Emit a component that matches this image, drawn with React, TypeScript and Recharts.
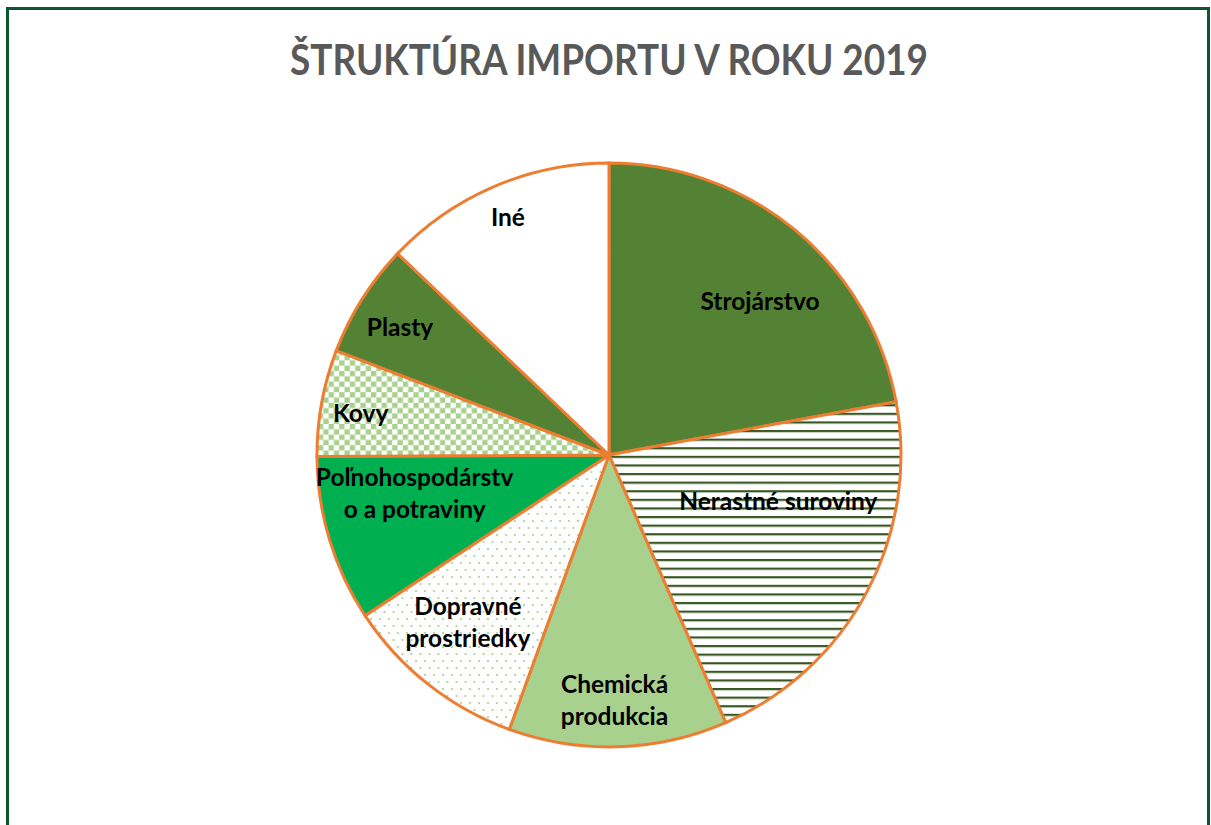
import React from 'react';
import { PieChart, Pie, Cell } from 'recharts';

// ---- data ----
const categories = [
  'Strojárstvo',
  'Nerastné suroviny',
  'Chemická produkcia',
  'Dopravné prostriedky',
  'Poľnohospodárstvo a potraviny',
  'Kovy',
  'Plasty',
  'Iné',
];
const shares = [22.1, 21.4, 12.1, 10.2, 9.2, 5.9, 6.3, 12.9];
const labelLines = [
  ['Strojárstvo'],
  ['Nerastné suroviny'],
  ['Chemická', 'produkcia'],
  ['Dopravné', 'prostriedky'],
  ['Poľnohospodárstv', 'o a potraviny'],
  ['Kovy'],
  ['Plasty'],
  ['Iné'],
];
const chartTitle = 'ŠTRUKTÚRA IMPORTU V ROKU 2019';

// ---- styles ----
const fills = [
  '#548235',
  'url(#hLines)',
  '#A9D18E',
  'url(#dots)',
  '#00B050',
  'url(#checker)',
  '#548235',
  '#FFFFFF',
];
// label placement: fraction of radius, clockwise angle offset (deg)
const labelLayout = [
  { r: 0.74, d: 4.6 },
  { r: 0.6, d: -13.1 },
  { r: 0.836, d: 0.5 },
  { r: 0.747, d: 2 },
  { r: 0.678, d: 5.9 },
  { r: 0.863, d: -0.5 },
  { r: 0.842, d: -0.5 },
  { r: 0.89, d: 0.3 },
];

const data = categories.map((name, i) => ({ name, value: shares[i] }));
const RAD = Math.PI / 180;
const FONT = 'Lato, "Open Sans", sans-serif';

const renderLabel = (props: any) => {
  const { cx, cy, midAngle, outerRadius, index } = props;
  const lay = labelLayout[index];
  const ang = midAngle - lay.d;
  const r = outerRadius * lay.r;
  const x = cx + r * Math.cos(-ang * RAD);
  const y = cy + r * Math.sin(-ang * RAD);
  const lines = labelLines[index];
  const lh = 32;
  const y0 = y - ((lines.length - 1) * lh) / 2;
  return (
    <text
      key={`lbl-${index}`}
      x={x}
      y={y0}
      textAnchor="middle"
      dominantBaseline="central"
      fontFamily={FONT}
      fontWeight={700}
      fontSize={24.5}
      fill="#000000"
    >
      {lines.map((ln, i) => (
        <tspan key={i} x={x} y={y0 + i * lh} dominantBaseline="central">
          {ln}
        </tspan>
      ))}
    </text>
  );
};

export default function App() {
  return (
    <div style={{ position: 'absolute', left: 0, top: 0, width: 1211, height: 825, background: '#fff', overflow: 'hidden' }}>
      <svg width={0} height={0} style={{ position: 'absolute' }}>
        <defs>
          <pattern id="hLines" patternUnits="userSpaceOnUse" width={10} height={8.6}>
            <rect x={0} y={0} width={10} height={8.6} fill="#ffffff" />
            <rect x={0} y={0} width={10} height={2.2} fill="#385723" />
          </pattern>
          <pattern id="checker" patternUnits="userSpaceOnUse" width={10.6} height={10.6}>
            <rect x={0} y={0} width={10.6} height={10.6} fill="#ffffff" />
            <rect x={0} y={0} width={5.3} height={5.3} fill="#A9D18E" />
            <rect x={5.3} y={5.3} width={5.3} height={5.3} fill="#A9D18E" />
          </pattern>
          <pattern id="dots" patternUnits="userSpaceOnUse" width={9} height={14}>
            <rect x={0} y={0} width={9} height={14} fill="#ffffff" />
            <circle cx={2} cy={3} r={1.1} fill="#A9D18E" />
            <circle cx={6.5} cy={10} r={1.1} fill="#A9D18E" />
          </pattern>
        </defs>
      </svg>
      <div
        style={{
          position: 'absolute',
          left: 6,
          top: 7,
          width: 1198,
          height: 840,
          border: '3px solid #0B5530',
          boxSizing: 'content-box',
        }}
      />
      <svg width={1211} height={825} style={{ position: 'absolute', left: 0, top: 0 }}>
        <text
          x={609}
          y={75}
          textAnchor="middle"
          fontFamily={FONT}
          fontWeight={700}
          fontSize={42}
          fill="#595959"
          textLength={638}
          lengthAdjust="spacingAndGlyphs"
        >
          {chartTitle}
        </text>
      </svg>
      <div style={{ position: 'absolute', left: 0, top: 0 }}>
        <PieChart width={1211} height={825}>
          <Pie
            data={data}
            dataKey="value"
            nameKey="name"
            cx={604}
            cy={450}
            outerRadius={292}
            startAngle={90}
            endAngle={-270}
            isAnimationActive={false}
            labelLine={false}
            label={renderLabel}
            stroke="#ED7D31"
            strokeWidth={3}
          >
            {data.map((d, i) => (
              <Cell key={d.name} fill={fills[i]} stroke="#ED7D31" strokeWidth={3} />
            ))}
          </Pie>
        </PieChart>
      </div>
    </div>
  );
}
